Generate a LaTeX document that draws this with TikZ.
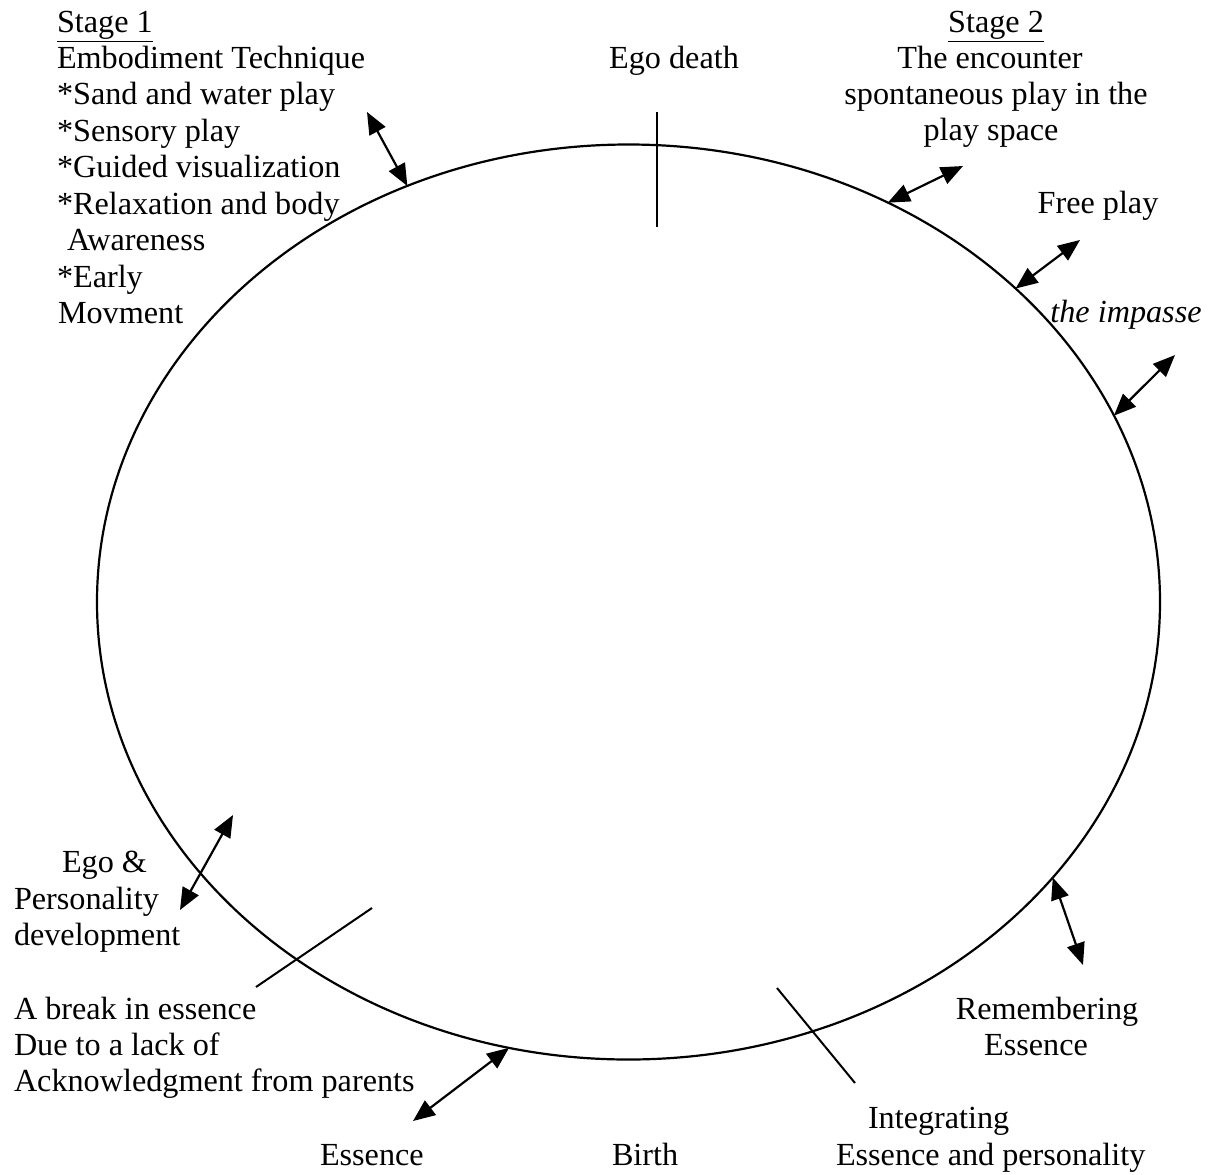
\documentclass[tikz,border=0pt]{standalone}
\usepackage{fontspec}
\setmainfont{Liberation Serif}
\usetikzlibrary{arrows.meta,shapes.geometric}
\begin{document}
\begin{tikzpicture}[x=0.5pt,y=-0.5pt,
  lbl/.style={inner sep=0pt,outer sep=0pt,font=\fontsize{16.1pt}{18.3pt}\selectfont},
  lw/.style={lbl,anchor=base west},
  lc/.style={lbl,anchor=base},
  ring/.style={ellipse,draw,line width=1.1pt,minimum width=531.5pt,minimum height=457.5pt,inner sep=0pt,outer sep=0pt},
  dbl/.style={line width=1.1pt,{Triangle[length=11pt,width=9pt]}-{Triangle[length=11pt,width=9pt]}},
  tick/.style={line width=1pt}]
\useasboundingbox (0,0) rectangle (1211,1174);

% main cycle
\node[ring] (E) at (628.5,602) {};

% Stage 1 block
\node[lw] (s1a) at (57,32) {\underline{Stage 1}};
\node[lw] (s1b) at (57,68) {Embodiment Technique};
\node[lw] (s1c) at (57,104) {*Sand and water play};
\node[lw] (s1d) at (57,141) {*Sensory play};
\node[lw] (s1e) at (57,177) {*Guided visualization};
\node[lw] (s1f) at (57,214) {*Relaxation and body};
\node[lw] (s1g) at (67,250) {Awareness};
\node[lw] (s1h) at (57,287) {*Early};
\node[lw] (s1i) at (58,323) {Movment};

% Ego death
\node[lc] (egod) at (674,68) {Ego death};

% Stage 2 block
\node[lc] (s2a) at (996,32) {\underline{Stage 2}};
\node[lc] (s2b) at (990,68) {The encounter};
\node[lc] (s2c) at (996,104) {spontaneous play in the};
\node[lc] (s2d) at (991,140) {play space};

\node[lc] (free) at (1098,213) {Free play};
\node[lc] (imp) at (1126,322) {\itshape the impasse};

% left lower labels
\node[lw] (ego1) at (62,872) {Ego \&};
\node[lw] (ego2) at (14,909) {Personality};
\node[lw] (ego3) at (14,945) {development};

\node[lw] (br1) at (14,1019) {A break in essence};
\node[lw] (br2) at (14,1055) {Due to a lack of};
\node[lw] (br3) at (14,1091) {Acknowledgment from parents};

\node[lw] (ess) at (320,1165) {Essence};
\node[lw] (birth) at (612,1165) {Birth};

\node[lw] (int1) at (868,1128) {Integrating};
\node[lw] (int2) at (836,1165) {Essence and personality};

\node[lc] (rem1) at (1047,1019) {Remembering};
\node[lc] (rem2) at (1036,1055) {Essence};

% free ends
\coordinate (a1) at (367,112);
\coordinate (a2) at (963,166);
\coordinate (a3) at (1080,240);
\coordinate (a4) at (1175,355);
\coordinate (a5) at (1083,965);
\coordinate (a6) at (413,1121);
\coordinate (g1) at (233,815);
\coordinate (g2) at (180,910);

% double arrows
\draw[dbl] (a1) -- (E.118.3);
\draw[dbl] (a2) -- (E.57);
\draw[dbl] (a3) -- (E.39.8);
\draw[dbl] (a4) -- (E.21.2);
\draw[dbl] (a5) -- (E.-33.8);
\draw[dbl] (a6) -- (E.-105.5);
\draw[dbl] (g1) -- (g2);

% tick lines
\coordinate (t1a) at (657,112);
\coordinate (t1b) at (657,227);
\coordinate (t2a) at (372,908);
\coordinate (t2b) at (256,987);
\coordinate (t3a) at (777,988);
\coordinate (t3b) at (855,1083);
\draw[tick] (t1a) -- (t1b);
\draw[tick] (t2a) -- (t2b);
\draw[tick] (t3a) -- (t3b);
\end{tikzpicture}
\end{document}
